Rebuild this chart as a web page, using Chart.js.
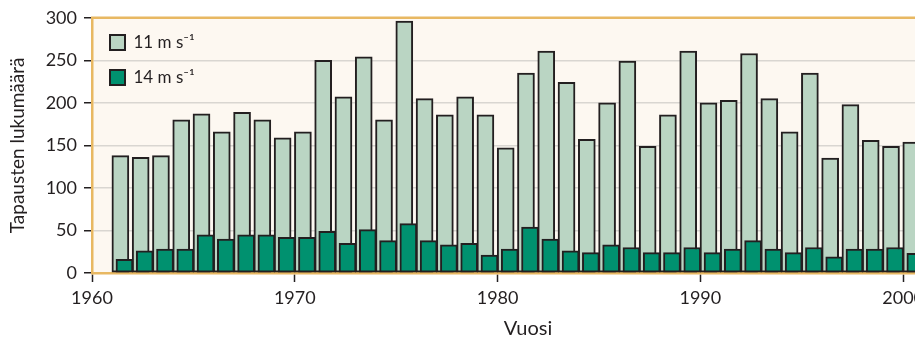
<!DOCTYPE html>
<html>
<head>
<meta charset="utf-8">
<script src="https://cdn.jsdelivr.net/npm/chart.js@4.4.1/dist/chart.umd.min.js"></script>
<style>
  html, body { margin: 0; padding: 0; background: #fff; overflow: hidden; }
  #wrap { width: 970px; height: 342px; }
</style>
</head>
<body>
<div id="wrap"><canvas id="myrsky"></canvas></div>
<script>
// vuodet 1961-2000
const vuodet = [1961, 1962, 1963, 1964, 1965, 1966, 1967, 1968, 1969, 1970,
  1971, 1972, 1973, 1974, 1975, 1976, 1977, 1978, 1979, 1980,
  1981, 1982, 1983, 1984, 1985, 1986, 1987, 1988, 1989, 1990,
  1991, 1992, 1993, 1994, 1995, 1996, 1997, 1998, 1999, 2000];
// tapaukset, tuuli yli 11 m/s
const tuuli11 = [138, 136, 138, 180, 187, 166, 189, 180, 159, 166,
  250, 207, 254, 180, 296, 205, 186, 207, 186, 147,
  235, 261, 224, 157, 200, 249, 149, 186, 261, 200,
  203, 258, 205, 166, 235, 135, 198, 156, 149, 154];
// tapaukset, tuuli yli 14 m/s
const tuuli14 = [16, 26, 28, 28, 45, 40, 45, 45, 42, 42,
  49, 35, 51, 38, 58, 38, 33, 35, 21, 28,
  54, 40, 26, 24, 33, 30, 24, 24, 30, 24,
  28, 38, 28, 24, 30, 19, 28, 28, 30, 23];
const yTicks = [0, 50, 100, 150, 200, 250, 300];
const xTicks = [1960, 1970, 1980, 1990, 2000];

const fontti = 'Lato, "DejaVu Sans", sans-serif';
const oranssi = '#e8b862';
const reuna = '#231f20';

// taustavari ja ylareuna piirtoalueelle
const taustaPlugin = {
  id: 'tausta',
  beforeDraw(chart) {
    const a = chart.chartArea, c = chart.ctx;
    c.save();
    c.fillStyle = '#fdf8f1';
    c.fillRect(a.left, a.top, a.right - a.left, a.bottom - a.top);
    c.restore();
  },
  afterDatasetsDraw(chart) {
    const a = chart.chartArea, c = chart.ctx;
    c.save();
    c.strokeStyle = oranssi;
    c.lineWidth = 2.5;
    c.beginPath();
    c.moveTo(a.left - 1, a.top);
    c.lineTo(a.right, a.top);
    c.stroke();
    c.restore();
  }
};

const ctx = document.getElementById('myrsky').getContext('2d');
new Chart(ctx, {
  type: 'bar',
  data: {
    datasets: [
      {
        label: '11 m s\u207B\u00B9',
        data: vuodet.map((v, i) => ({ x: v + 0.4, y: tuuli11[i] })),
        backgroundColor: '#bad5c3',
        borderColor: reuna,
        borderWidth: 2,
        borderSkipped: false,
        barThickness: 17,
        grouped: false,
        order: 2
      },
      {
        label: '14 m s\u207B\u00B9',
        data: vuodet.map((v, i) => ({ x: v + 0.6, y: tuuli14[i] })),
        backgroundColor: '#00916f',
        borderColor: reuna,
        borderWidth: 2,
        borderSkipped: false,
        barThickness: 17,
        grouped: false,
        order: 1
      }
    ]
  },
  plugins: [taustaPlugin],
  options: {
    responsive: true,
    maintainAspectRatio: false,
    animation: false,
    layout: { padding: { left: 0, top: 15, right: 6, bottom: 0 } },
    plugins: {
      tooltip: { enabled: false },
      legend: {
        position: 'chartArea',
        align: 'start',
        title: { display: true, text: ' ', font: { size: 10, lineHeight: 1 }, padding: { top: 3, bottom: 3 } },
        labels: {
          boxWidth: 15,
          boxHeight: 15,
          padding: 18,
          color: '#231f20',
          font: { size: 17, family: fontti },
          sort: (a, b) => a.datasetIndex - b.datasetIndex
        }
      }
    },
    scales: {
      x: {
        type: 'linear',
        min: 1960,
        max: 2003,
        offset: false,
        z: 1,
        afterFit: (s) => { s.height = 69; },
        afterBuildTicks: (s) => { s.ticks = xTicks.map(v => ({ value: v })); },
        grid: { offset: false, drawOnChartArea: false, drawTicks: true, tickLength: 9, tickColor: '#231f20', tickWidth: 1.5 },
        border: { color: oranssi, width: 2.5 },
        ticks: {
          padding: 5,
          color: '#231f20',
          font: { size: 18, family: fontti },
          callback: (v) => String(v)
        },
        title: {
          display: true,
          text: 'Vuosi',
          color: '#231f20',
          font: { size: 20, family: fontti },
          padding: { top: 0, bottom: 1 }
        }
      },
      y: {
        min: 0,
        max: 300,
        afterFit: (s) => { s.width = 92; },
        afterBuildTicks: (s) => { s.ticks = yTicks.map(v => ({ value: v })); },
        grid: {
          color: (c) => (c.tick && (c.tick.value === 0 || c.tick.value === 300)) ? 'rgba(0,0,0,0)' : '#d9d6d1',
          lineWidth: 1.5,
          drawTicks: true,
          tickLength: 8,
          tickColor: '#231f20',
          tickWidth: 1.5
        },
        border: { color: oranssi, width: 2.5 },
        ticks: {
          padding: 7,
          color: '#231f20',
          font: { size: 18, family: fontti }
        },
        title: {
          display: true,
          text: 'Tapausten lukumäärä',
          color: '#231f20',
          font: { size: 19, family: fontti },
          padding: { top: 6, bottom: 0 }
        }
      }
    }
  }
});
</script>
</body>
</html>
